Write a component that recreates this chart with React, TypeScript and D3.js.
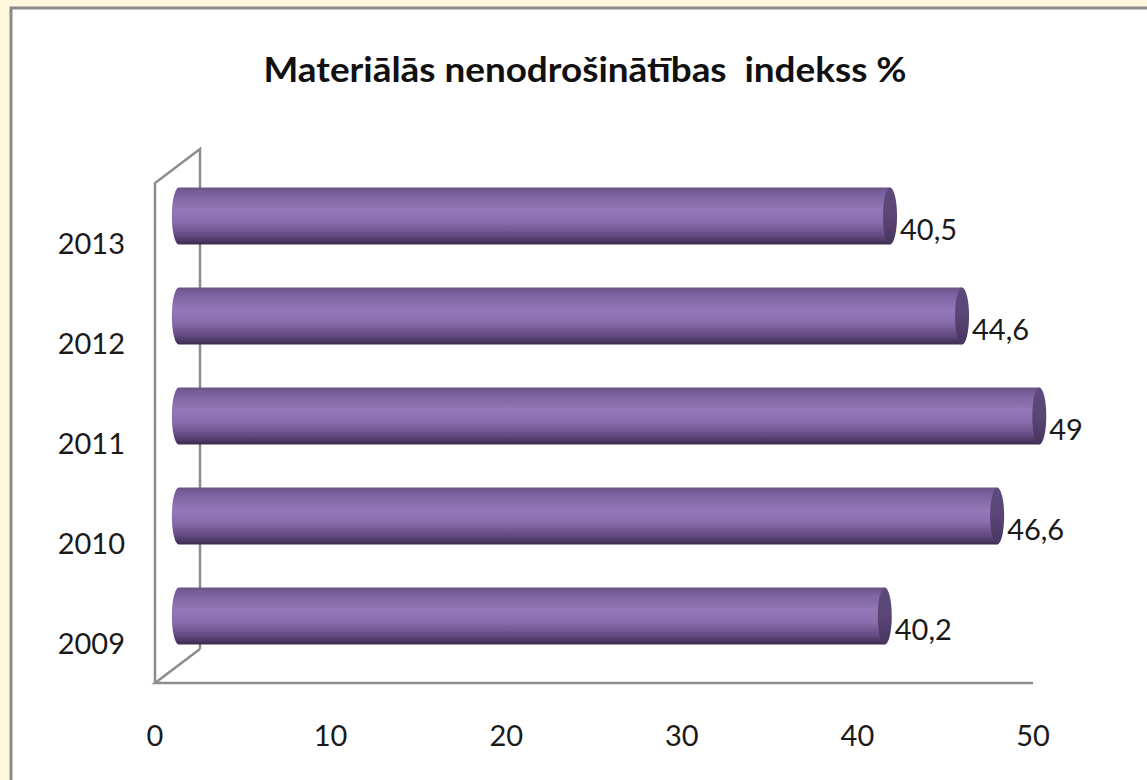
import React from 'react';
import * as d3 from 'd3';

const years = ['2009', '2010', '2011', '2012', '2013'];
const values = [40.2, 46.6, 49, 44.6, 40.5];
const ticks = [0, 10, 20, 30, 40, 50];
const title = 'Materiālās nenodrošinātības  indekss %';

const W = 1147;
const H = 780;
// 3D depth shift of the back wall
const DX = 45;
const DY = -34;

const lv = d3.formatLocale({ decimal: ',', thousands: ' ', grouping: [3], currency: ['', ''] });
const fmt = lv.format('~r');

const App = () => {
  const x = d3.scaleLinear().domain([0, 50]).range([155, 1033]);
  const y = d3.scaleBand().domain([...years].reverse()).range([183, 683]);
  const barH = 57;
  const rx = 7;
  const font = 'Lato, "Open Sans", sans-serif';

  // bars sit halfway into the depth
  const bx = DX * 0.53;
  const by = DY * 0.5;

  const x0 = x(0);
  const x1 = x(50);
  const yTop = y.range()[0];
  const yBot = y.range()[1];

  return (
    <div style={{ position: 'absolute', left: 0, top: 0 }}>
      <svg width={W} height={H} style={{ display: 'block' }}>
        <defs>
          <linearGradient id='cyl' x1='0' y1='0' x2='0' y2='1'>
            <stop offset='0%' stopColor='#6a5387' />
            <stop offset='12%' stopColor='#7b62a0' />
            <stop offset='40%' stopColor='#9477b8' />
            <stop offset='60%' stopColor='#8a6dae' />
            <stop offset='85%' stopColor='#62497f' />
            <stop offset='100%' stopColor='#3b2b4f' />
          </linearGradient>
          <linearGradient id='cap' x1='0' y1='0' x2='0' y2='1'>
            <stop offset='0%' stopColor='#5f4a7c' />
            <stop offset='50%' stopColor='#5a4577' />
            <stop offset='100%' stopColor='#46355e' />
          </linearGradient>
        </defs>
        <rect x={0} y={0} width={W} height={H} fill='#fff7dd' />
        <rect x={11} y={8} width={W + 20} height={H + 20} fill='#ffffff' stroke='#8a8a8a' strokeWidth={3} />

        <text x={585} y={82} textAnchor='middle' fontFamily={font} fontWeight={700} fontSize={35}
          textLength={643} lengthAdjust='spacingAndGlyphs' fill='#111'
          style={{ whiteSpace: 'pre' }}>{title}</text>

        {/* wall and floor outline */}
        <g stroke='#8c8c8c' strokeWidth={2.5} fill='none'>
          <path d={`M${x0},${yBot}V${yTop}L${x0 + DX},${yTop + DY}V${yBot + DY}`} />
          <path d={`M${x0 + DX},${yBot + DY}L${x0},${yBot}H${x1}`} />
        </g>

        {years.map((yr, i) => {
          const v = values[i];
          const cy = (y(yr) as number) + y.bandwidth() / 2 + by;
          const left = x0 + bx;
          const right = x(v) + bx;
          const top = cy - barH / 2;
          return (
            <g key={yr}>
              <path
                d={`M${right},${top}H${left}A${rx},${barH / 2} 0 0 0 ${left},${top + barH}H${right}Z`}
                fill='url(#cyl)'
              />
              <ellipse cx={right} cy={cy} rx={rx} ry={barH / 2} fill='url(#cap)' />
              <text x={right + rx + 3} y={cy + 12} dominantBaseline='central' fontFamily={font}
                fontSize={29} fill='#1a1a1a'>{fmt(v)}</text>
            </g>
          );
        })}

        {years.map(yr => (
          <text key={yr} x={125} y={(y(yr) as number) + y.bandwidth() / 2 + 9} textAnchor='end'
            dominantBaseline='central' fontFamily={font} fontSize={29} fill='#1a1a1a'>{yr}</text>
        ))}

        {ticks.map(t => (
          <text key={t} x={x(t)} y={734} textAnchor='middle' dominantBaseline='central'
            fontFamily={font} fontSize={29} fill='#1a1a1a'>{t}</text>
        ))}
      </svg>
    </div>
  );
};

export default App;
